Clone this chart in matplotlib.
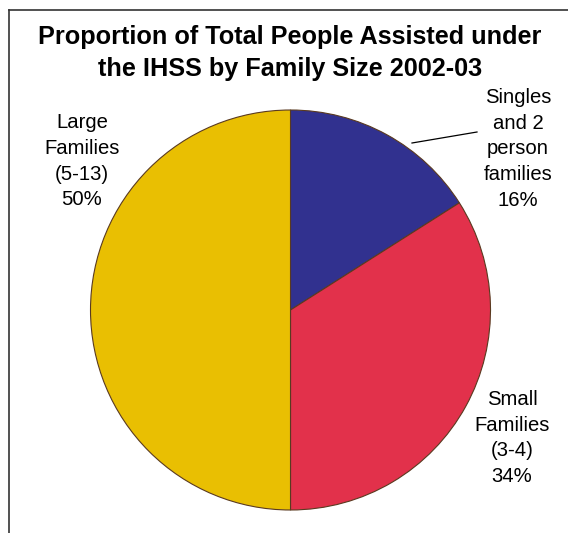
import matplotlib
matplotlib.use("Agg")
import matplotlib.pyplot as plt
from matplotlib.lines import Line2D

plt.rcParams['font.family'] = ['Liberation Sans', 'DejaVu Sans']

categories = ["Singles\nand 2\nperson\nfamilies", "Small\nFamilies\n(3-4)", "Large\nFamilies\n(5-13)"]
values = [16, 34, 50]
colors = ["#31318F", "#E2314B", "#E9BF02"]
title = "Proportion of Total People Assisted under\nthe IHSS by Family Size 2002-03"

W, H = 568, 533
fig = plt.figure(figsize=(W / 100, H / 100), dpi=100)
ax = fig.add_axes([0, 0, 1, 1])

cx, cy, r = 290.5, 310, 200
# y axis is inverted below, so counterclock=True draws visually clockwise
wedges, _ = ax.pie(values, colors=colors, startangle=-90, counterclock=True,
                   center=(cx, cy), radius=r, frame=True,
                   wedgeprops=dict(edgecolor="#5a3a20", linewidth=0.8))
ax.set_xlim(0, W)
ax.set_ylim(H, 0)
ax.set_aspect('equal')
ax.axis('off')

# frame (top and left edges visible)
fig.add_artist(Line2D([9 / W, 9 / W], [0, 1 - 10 / H], color="#333333", lw=1.2))
fig.add_artist(Line2D([9 / W, 1], [1 - 10 / H, 1 - 10 / H], color="#333333", lw=1.2))

ax.text(290, 25, title, ha='center', va='top', fontsize=18.2,
        fontweight='bold', linespacing=1.44)

lab_fs = 14.6
ls = 1.45
ax.text(82, 113, f"{categories[2]}\n{values[2]}%", ha='center', va='top',
        fontsize=lab_fs, linespacing=ls)
ax.text(518, 88, f"{categories[0]}\n{values[0]}%", ha='center', va='top',
        fontsize=lab_fs, linespacing=ls)
ax.text(512, 390, f"{categories[1]}\n{values[1]}%", ha='center', va='top',
        fontsize=lab_fs, linespacing=ls)
ax.plot([412, 477], [143, 132], color='black', lw=0.9)

fig.savefig("out.png", dpi=100)
